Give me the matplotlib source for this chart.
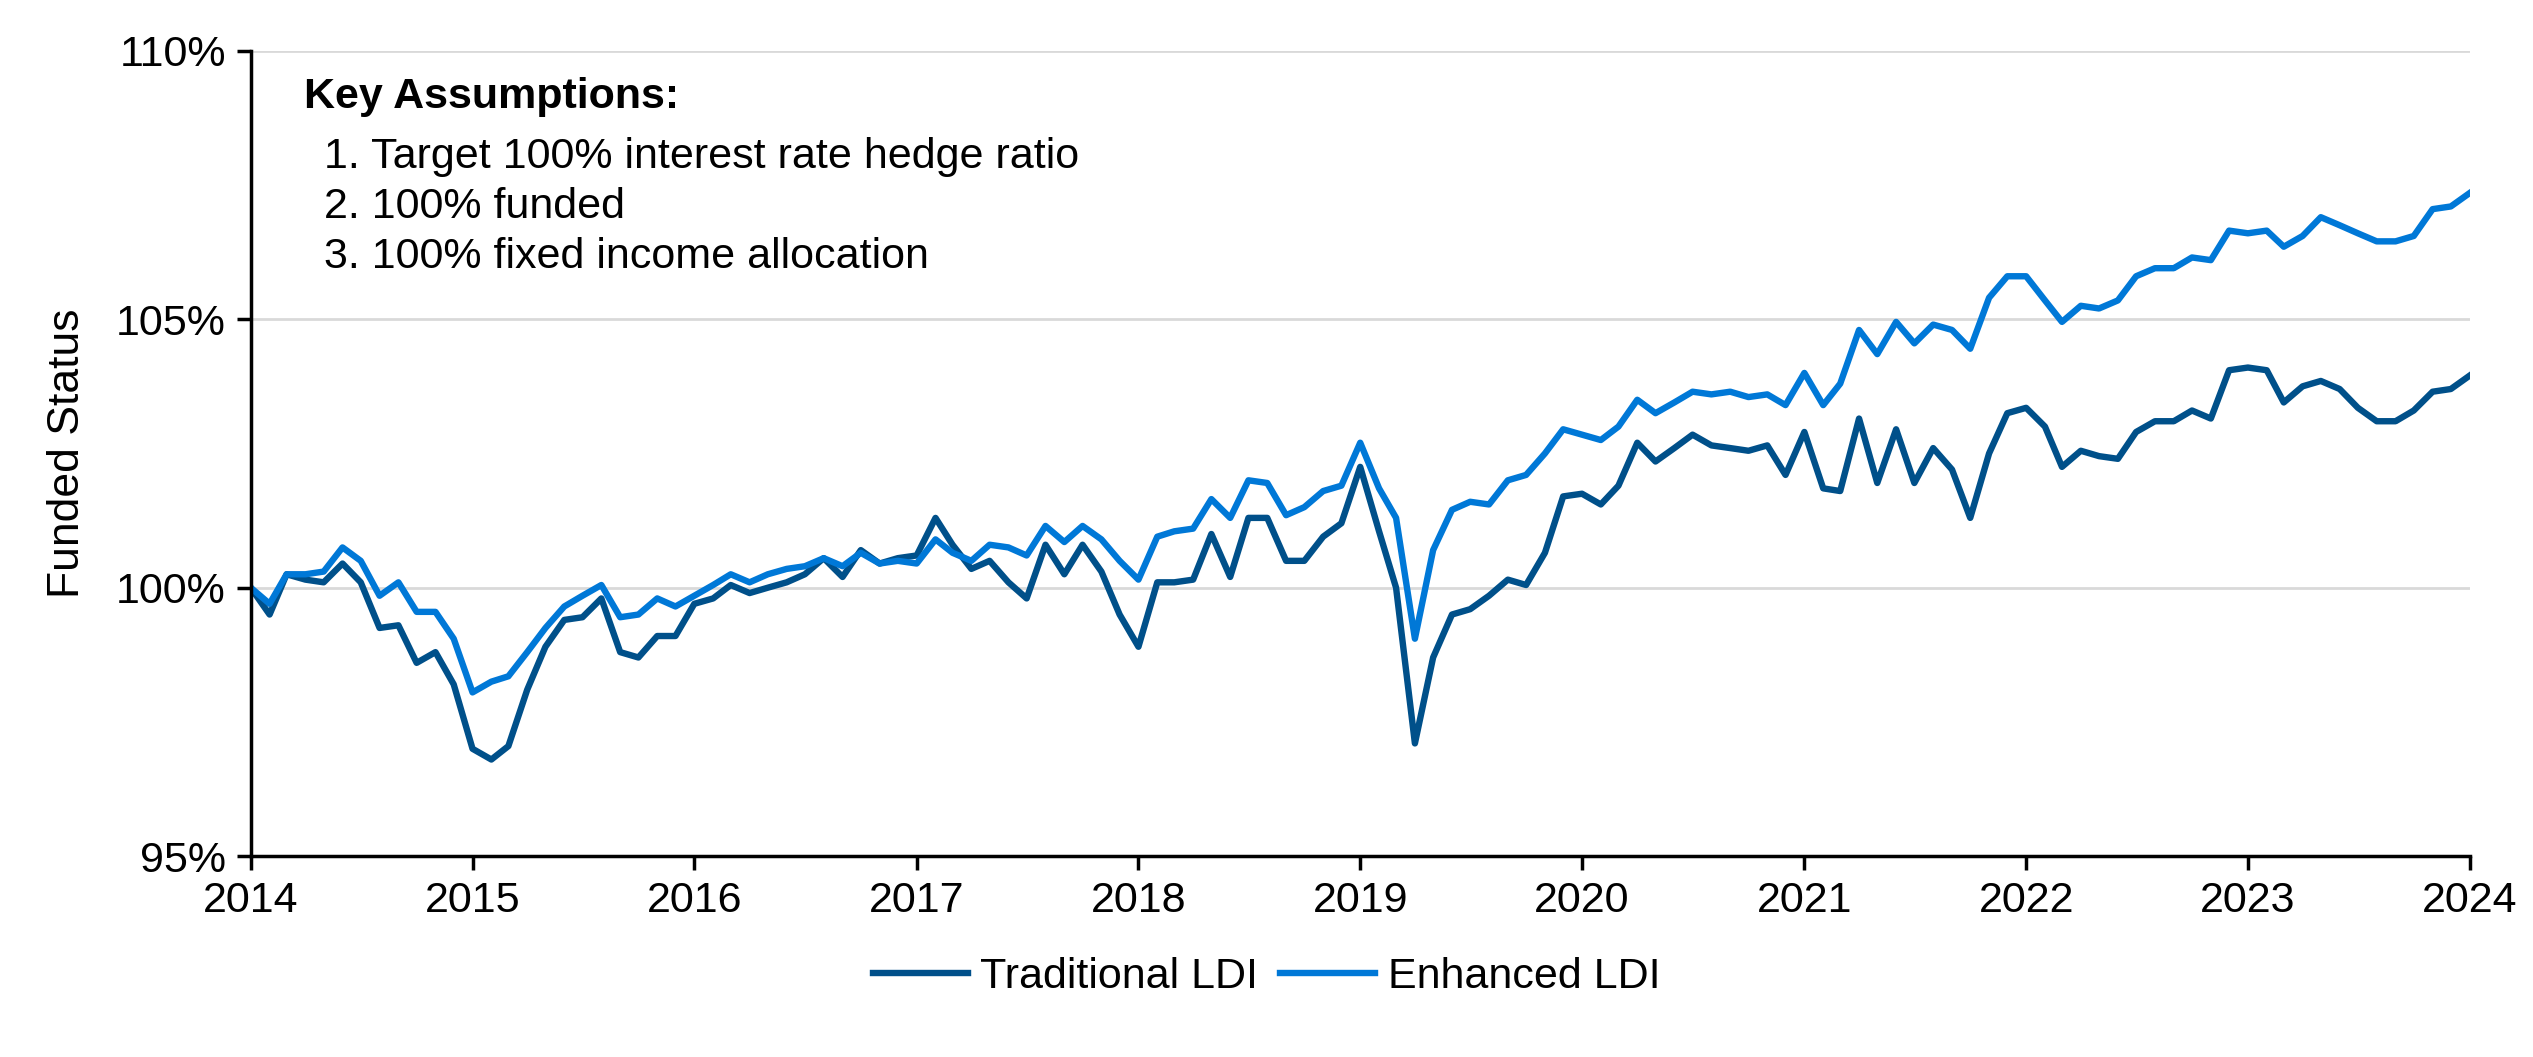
import matplotlib
matplotlib.use("Agg")
import matplotlib.pyplot as plt
import numpy as np
import pandas as pd

plt.rcParams['font.family'] = ['Liberation Sans', 'DejaVu Sans']

traditional = [
 100.0, 99.5, 100.25, 100.15, 100.1, 100.45, 100.1, 99.25, 99.3, 98.6, 98.8, 98.2,
 97.0, 96.8, 97.05, 98.1, 98.9, 99.4, 99.45, 99.8, 98.8, 98.7, 99.1, 99.1,
 99.7, 99.8, 100.05, 99.9, 100.0, 100.1, 100.25, 100.55, 100.2, 100.7, 100.45, 100.55,
 100.6, 101.3, 100.8, 100.35, 100.5, 100.1, 99.8, 100.8, 100.25, 100.8, 100.3, 99.5,
 98.9, 100.1, 100.1, 100.15, 101.0, 100.2, 101.3, 101.3, 100.5, 100.5, 100.95, 101.2,
 102.25, 101.05, 100.0, 97.1, 98.7, 99.5, 99.6, 99.85, 100.15, 100.05, 100.65, 101.7,
 101.75, 101.55, 101.9, 102.7, 102.35, 102.6, 102.85, 102.65, 102.6, 102.55, 102.65, 102.1,
 102.9, 101.85, 101.8, 103.15, 101.95, 102.95, 101.95, 102.6, 102.2, 101.3, 102.5, 103.25,
 103.35, 103.0, 102.25, 102.55, 102.45, 102.4, 102.9, 103.1, 103.1, 103.3, 103.15, 104.05,
 104.1, 104.05, 103.45, 103.75, 103.85, 103.7, 103.35, 103.1, 103.1, 103.3, 103.65, 103.7,
 103.95]
enhanced = [
 100.0, 99.7, 100.25, 100.25, 100.3, 100.75, 100.5, 99.85, 100.1, 99.55, 99.55, 99.05,
 98.05, 98.25, 98.35, 98.8, 99.25, 99.65, 99.85, 100.05, 99.45, 99.5, 99.8, 99.65,
 99.85, 100.05, 100.25, 100.1, 100.25, 100.35, 100.4, 100.55, 100.4, 100.65, 100.45, 100.5,
 100.45, 100.9, 100.65, 100.5, 100.8, 100.75, 100.6, 101.15, 100.85, 101.15, 100.9, 100.5,
 100.15, 100.95, 101.05, 101.1, 101.65, 101.3, 102.0, 101.95, 101.35, 101.5, 101.8, 101.9,
 102.7, 101.85, 101.3, 99.05, 100.7, 101.45, 101.6, 101.55, 102.0, 102.1, 102.5, 102.95,
 102.85, 102.75, 103.0, 103.5, 103.25, 103.45, 103.65, 103.6, 103.65, 103.55, 103.6, 103.4,
 104.0, 103.4, 103.8, 104.8, 104.35, 104.95, 104.55, 104.9, 104.8, 104.45, 105.4, 105.8,
 105.8, 105.35, 104.95, 105.25, 105.2, 105.35, 105.8, 105.95, 105.95, 106.15, 106.1, 106.65,
 106.6, 106.65, 106.35, 106.55, 106.9, 106.75, 106.6, 106.45, 106.45, 106.55, 107.05, 107.1,
 107.35]
dates = pd.date_range("2014-01-01", periods=len(traditional), freq="MS")
year_ticks = list(range(2014, 2025))
y_ticks = [95, 100, 105, 110]
assumptions = ["1. Target 100% interest rate hedge ratio", "2. 100% funded",
               "3. 100% fixed income allocation"]

fig = plt.figure(figsize=(25.33, 10.57), dpi=100)
ax = fig.add_axes([0.099, 0.19, 0.876, 0.762])
ax.plot(dates, traditional, color="#00508a", lw=4.6, label="Traditional LDI")
ax.plot(dates, enhanced, color="#0078d7", lw=4.6, label="Enhanced LDI")
ax.set_ylim(95, 110)
ax.set_xlim(pd.Timestamp("2014-01-01"), pd.Timestamp("2024-01-01"))
ax.set_yticks(y_ticks)
ax.set_yticklabels([f"{v}%" for v in y_ticks])
ax.set_xticks([pd.Timestamp(f"{y}-01-01") for y in year_ticks])
ax.set_xticklabels([str(y) for y in year_ticks])
ax.grid(axis='y', color="#d9d9d9", lw=2)
ax.set_axisbelow(True)
for s in ["top", "right", "bottom"]:
    ax.spines[s].set_visible(False)
ax.spines["left"].set_linewidth(2.5)
ax.axhline(95, color="black", lw=2.5, clip_on=False, zorder=1)
ax.tick_params(axis='both', labelsize=31, width=2.5, length=10, direction='out', pad=8)
ax.set_ylabel("Funded Status", fontsize=32, labelpad=20)
ax.text(0.024, 0.942, "Key Assumptions:", transform=ax.transAxes, fontsize=31,
        fontweight="bold", va="center")
for i, t in enumerate(assumptions):
    ax.text(0.033, 0.868 - i * 0.062, t, transform=ax.transAxes, fontsize=31, va="center")
fig.legend(loc="lower center", ncol=2, frameon=False, fontsize=31,
           bbox_to_anchor=(0.5, 0.02), handlelength=2.2, columnspacing=0.5, handletextpad=0.3)
fig.savefig("out.png", dpi=100)
